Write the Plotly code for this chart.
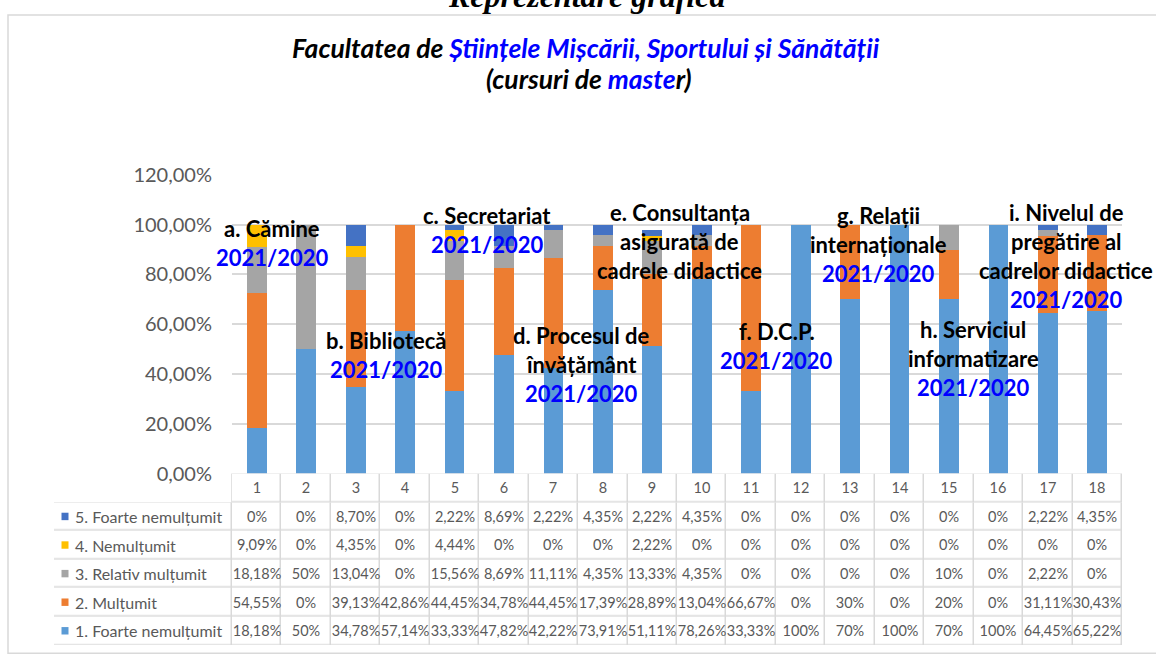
import plotly.graph_objects as go

categories = [str(i) for i in range(1, 19)]
s1_foarte_multumit = [18.18, 50, 34.78, 57.14, 33.33, 47.82, 42.22, 73.91, 51.11, 78.26, 33.33, 100, 70, 100, 70, 100, 64.45, 65.22]
s2_multumit = [54.55, 0, 39.13, 42.86, 44.45, 34.78, 44.45, 17.39, 28.89, 13.04, 66.67, 0, 30, 0, 20, 0, 31.11, 30.43]
s3_relativ = [18.18, 50, 13.04, 0, 15.56, 8.69, 11.11, 4.35, 13.33, 4.35, 0, 0, 0, 0, 10, 0, 2.22, 0]
s4_nemultumit = [9.09, 0, 4.35, 0, 4.44, 0, 0, 0, 2.22, 0, 0, 0, 0, 0, 0, 0, 0, 0]
s5_foarte_nemultumit = [0, 0, 8.70, 0, 2.22, 8.69, 2.22, 4.35, 2.22, 4.35, 0, 0, 0, 0, 0, 0, 2.22, 4.35]

series_names = ["1. Foarte nemulțumit", "2. Mulțumit", "3. Relativ mulțumit", "4. Nemulțumit", "5. Foarte nemulțumit"]
series_values = [s1_foarte_multumit, s2_multumit, s3_relativ, s4_nemultumit, s5_foarte_nemultumit]
series_colors = ["#5B9BD5", "#ED7D31", "#A5A5A5", "#FFC000", "#4472C4"]

y_ticks = [0, 20, 40, 60, 80, 100, 120]
y_tick_labels = ["0,00%", "20,00%", "40,00%", "60,00%", "80,00%", "100,00%", "120,00%"]

# text labels: (lines, x category index, top y value)
label_groups = [
    (["a. Cămine", "2021/2020"], 0.31, 98.3),
    (["b. Bibliotecă", "2021/2020"], 2.62, 53.4),
    (["c. Secretariat", "2021/2020"], 4.66, 103.5),
    (["d. Procesul de", "învățământ", "2021/2020"], 6.56, 55.4),
    (["e. Consultanța", "asigurată de", "cadrele didactice"], 8.56, 104.7),
    (["f. D.C.P.", "2021/2020"], 10.52, 57.0),
    (["g. Relații", "internaționale", "2021/2020"], 12.57, 103.5),
    (["h. Serviciul", "informatizare", "2021/2020"], 14.49, 57.8),
    (["i. Nivelul de", "pregătire al", "cadrelor didactice", "2021/2020"], 16.37, 104.7),
]

W, H = 1156, 658
PX_X0, PX_X1 = 232, 1122          # bar plot area (x)
PX_Y0, PX_Y120 = 478, 168         # bar plot area (y of 0% and 120%)
TBL_X0, TBL_BOTTOM = 54, 658      # table left edge and bottom
COLW = (PX_X1 - PX_X0) / 18.0
LABEL_W = PX_X0 - TBL_X0
XL = -0.5 - LABEL_W / COLW        # left edge of the label column in x2 units
grid = "#D9D9D9"
txt_gray = "#595959"


def fmt(v):
    if float(v) == int(v):
        return f"{int(v)}%"
    return f"{v:.2f}".replace(".", ",") + "%"


fig = go.Figure()
for name, vals, col in zip(series_names, series_values, series_colors):
    fig.add_trace(go.Bar(x=categories, y=vals, name=name, marker=dict(color=col, line=dict(width=0)),
                         showlegend=False, hoverinfo="skip", xaxis="x", yaxis="y"))

# ---- data table drawn as a heatmap grid ----
row_order = [4, 3, 2, 1, 0]
x_edges = [XL] + [i - 0.5 for i in range(19)]
z_rows = [[None] + [0] * 18]
t_rows = [[""] + categories]
for i in row_order:
    z_rows.append([0] * 19)
    t_rows.append([""] + [fmt(v) for v in series_values[i]])
fig.add_trace(go.Heatmap(
    x=x_edges, y=list(range(6)), z=z_rows, text=t_rows, texttemplate="%{text}",
    textfont=dict(family="Lato", size=14.5, color=txt_gray),
    colorscale=[[0, "white"], [1, "white"]], zmin=0, zmax=1, showscale=False,
    xgap=1.5, ygap=1.5, hoverinfo="skip", xaxis="x2", yaxis="y2",
))

ex = 0.75 / COLW
row_px = (TBL_BOTTOM - 2 - PX_Y0) / 6.0
ey = 0.75 / row_px
shapes = [
    dict(type="rect", xref="x2", yref="y2", x0=XL - ex, x1=17.5 + ex, y0=0.5, y1=5.5 + ey,
         fillcolor=grid, line=dict(width=0), layer="below"),
    dict(type="rect", xref="x2", yref="y2", x0=-0.5 - ex, x1=17.5 + ex, y0=-0.5 - ey, y1=0.5,
         fillcolor=grid, line=dict(width=0), layer="below"),
    dict(type="rect", xref="paper", yref="paper", x0=8 / W, x1=1.01, y0=-0.01, y1=1 - 2 / H,
         line=dict(color=grid, width=1.5), fillcolor="rgba(0,0,0,0)", layer="below"),
]

annotations = []
sq_x0 = XL + 7.5 / COLW
sq_x1 = XL + 14.5 / COLW
for r, i in enumerate(row_order, start=1):
    shapes.append(dict(type="rect", xref="x2", yref="y2", x0=sq_x0, x1=sq_x1, y0=r - 0.13, y1=r + 0.13,
                       fillcolor=series_colors[i], line=dict(width=0), layer="above"))
    annotations.append(dict(x=XL + 19 / COLW, y=r, xref="x2", yref="y2", text=series_names[i],
                            showarrow=False, xanchor="left", yanchor="middle",
                            font=dict(family="Lato", size=16, color=txt_gray)))

line_step = 11.64
for lines, xc, ytop in label_groups:
    for i, ln in enumerate(lines):
        if ln == "2021/2020":
            txt = f"<b><span style='color:#0000FF'>{ln}</span></b>"
        else:
            txt = f"<b>{ln}</b>"
        annotations.append(dict(x=xc, y=ytop - i * line_step, xref="x", yref="y", text=txt,
                                showarrow=False, xanchor="center", yanchor="middle",
                                font=dict(family="Lato", size=22, color="black")))

annotations += [
    dict(x=586 / W, y=1 + 18 / H, xref="paper", yref="paper", showarrow=False,
         text="<b><i>Reprezentare grafică</i></b>", xanchor="center", yanchor="middle",
         font=dict(family="Liberation Serif", size=32, color="black")),
    dict(x=586 / W, y=1 - 36 / H, xref="paper", yref="paper", showarrow=False,
         text="<b><i>Facultatea de <span style='color:#0000FF'>Științele Mișcării, Sportului și Sănătății</span></i></b>",
         xanchor="center", yanchor="middle", font=dict(family="Lato", size=26.5, color="black")),
    dict(x=589 / W, y=1 - 69 / H, xref="paper", yref="paper", showarrow=False,
         text="<b><i>(cursuri de <span style='color:#0000FF'>maste</span>r)</i></b>",
         xanchor="center", yanchor="middle", font=dict(family="Lato", size=26.5, color="black")),
]

fig.update_layout(
    width=W, height=H,
    margin=dict(l=0, r=0, t=0, b=0),
    paper_bgcolor="white", plot_bgcolor="white",
    barmode="stack", bargap=0.6,
    xaxis=dict(domain=[PX_X0 / W, PX_X1 / W], range=[-0.5, 17.5], showticklabels=False, ticks="",
               showgrid=False, zeroline=False, showline=False, fixedrange=True, anchor="y"),
    yaxis=dict(domain=[(H - PX_Y0) / H, (H - PX_Y120) / H], range=[0, 120], tickvals=y_ticks,
               ticktext=y_tick_labels, showgrid=True, gridcolor=grid, gridwidth=1.5,
               zeroline=False, showline=False, ticks="outside", ticklen=15,
               tickcolor="rgba(0,0,0,0)", anchor="x", fixedrange=True,
               tickfont=dict(family="Lato", size=20, color=txt_gray)),
    xaxis2=dict(domain=[TBL_X0 / W, PX_X1 / W], range=[XL, 17.5], visible=False, anchor="y2",
                fixedrange=True),
    yaxis2=dict(domain=[2 / H, (H - PX_Y0) / H], range=[5.5, -0.5], visible=False,
                anchor="x2", fixedrange=True),
    annotations=annotations,
    shapes=shapes,
)

fig.write_html("out.html", config={"displayModeBar": False},
               post_script="document.body.style.margin='0';document.body.style.overflow='hidden';")
